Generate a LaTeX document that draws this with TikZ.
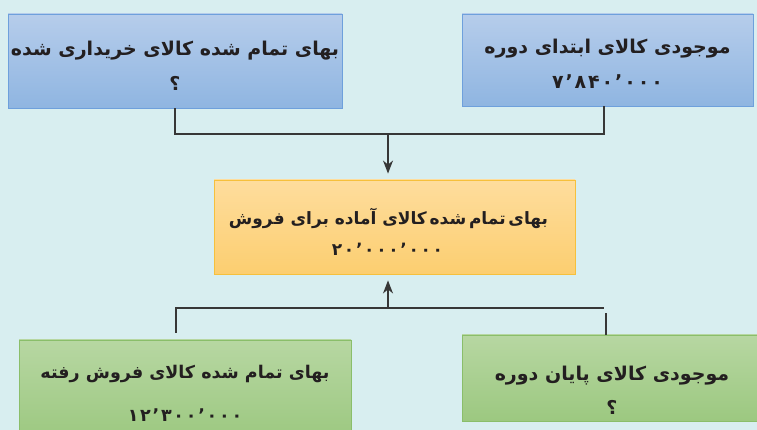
\documentclass[tikz,border=0pt]{standalone}
\usepackage{fontspec}
\usepackage{xcolor}
\usepackage{tikz}
\usetikzlibrary{arrows,arrows.meta,shapes,positioning,calc}
\TeXXeTstate=1
\newfontfamily\arabicfont[Script=Arabic]{DejaVu Sans}
\newfontfamily\numfont[Script=Arabic,LetterSpace=10]{DejaVu Sans}
\newcommand{\widenum}[1]{{\numfont\bfseries\beginL #1\endL}}

\definecolor{bgcyan}{RGB}{216,238,240}
\definecolor{bluetop}{RGB}{182,205,235}
\definecolor{bluebot}{RGB}{143,181,225}
\definecolor{blueedge}{RGB}{110,160,220}
\definecolor{orangetop}{RGB}{254,221,157}
\definecolor{orangebot}{RGB}{252,206,112}
\definecolor{orangeedge}{RGB}{246,192,60}
\definecolor{greentop}{RGB}{183,215,162}
\definecolor{greenbot}{RGB}{156,200,128}
\definecolor{greenedge}{RGB}{138,190,106}
\definecolor{inkdark}{RGB}{35,31,32}
\definecolor{linegray}{RGB}{55,55,55}

\tikzset{
	box/.style={draw, line width=0.9pt, inner sep=0pt, align=center, text=inkdark,
		font=\arabicfont\bfseries\fontsize{19}{23}\selectfont},
	bluebox/.style={box, draw=blueedge, top color=bluetop, bottom color=bluebot},
	orangebox/.style={box, draw=orangeedge, top color=orangetop, bottom color=orangebot},
	greenbox/.style={box, draw=greenedge, top color=greentop, bottom color=greenbot},
	conn/.style={draw=linegray, line width=1.1pt},
	tip/.style={-{Stealth[length=13pt,width=10pt,inset=4pt]}}
}

\begin{document}
\begin{tikzpicture}[x=1pt,y=1pt]
				\useasboundingbox (0,0) rectangle (757,430);
				\fill [bgcyan] (0,0) rectangle (757,430);
				
				% top row
				\node [bluebox, minimum width=334pt, minimum height=94pt] (buy) at (175,369)
					{\rule{0pt}{25pt}\beginR بهای تمام شده کالای خریداری شده\endR\\[12pt]\beginR ؟\endR};
				\node [bluebox, minimum width=291pt, minimum height=92pt] (open) at (607.5,370)
					{\rule{0pt}{23pt}\beginR موجودی کالای ابتدای دوره\endR\\[12pt]\widenum{۷٬۸۴۰٬۰۰۰}};
				
				% middle
				\node [orangebox, minimum width=361pt, minimum height=94pt, font=\arabicfont\bfseries\fontsize{17}{21}\selectfont] (avail) at (394.5,203)
					{\rule{0pt}{26pt}\beginR بهای\,تمام\,شده\,کالای آماده برای فروش\endR\hspace*{12pt}\\[10pt]\widenum{۲۰٬۰۰۰٬۰۰۰}\hspace*{14pt}};
				
				% bottom row
				\node [greenbox, minimum width=332pt, minimum height=100pt, font=\arabicfont\bfseries\fontsize{17.5}{21}\selectfont] (sold) at (185,40)
					{\rule{0pt}{20pt}\beginR بهای تمام شده کالای فروش رفته\endR\\[22pt]\widenum{۱۲٬۳۰۰٬۰۰۰}};
				\node [greenbox, minimum width=300pt, minimum height=86pt] (close) at (612,52)
					{\rule{0pt}{40pt}\beginR موجودی کالای پایان دوره\endR\\[11pt]\beginR ؟\endR};
				
				\coordinate (topjoin) at (388,296);
				\coordinate (botjoin) at (388,122);
				\coordinate (botright) at ([xshift=-8pt]close.north);
				
				\draw [conn] (buy.south) |- (topjoin) -| ([xshift=-3.5pt]open.south);
				\draw [conn, tip, shorten >=6pt] (topjoin) -- (avail.north -| topjoin);
				
				\draw [conn] ([xshift=-9pt,yshift=7pt]sold.north) |- (botjoin) -- (botjoin -| botright);
				\draw [conn] ([xshift=-6pt]close.north) -- ++(0,22);
				\draw [conn, tip, shorten >=6pt] (botjoin) -- (avail.south -| botjoin);
\end{tikzpicture}
\end{document}
